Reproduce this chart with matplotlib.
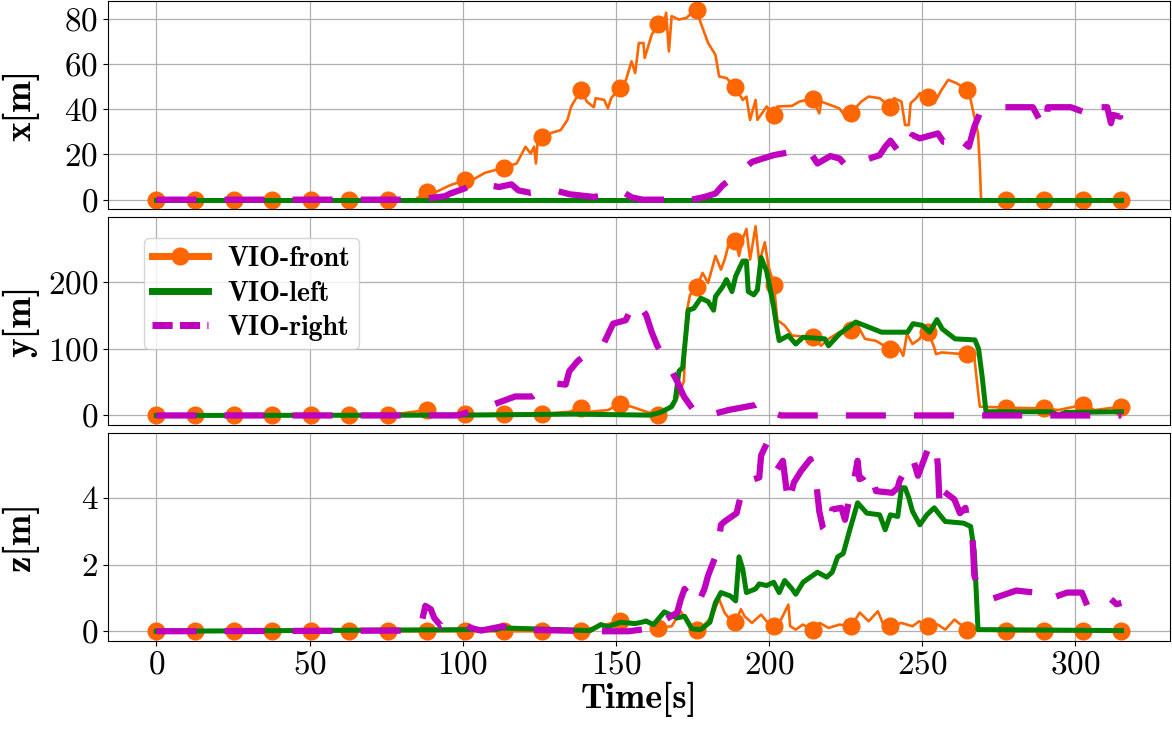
import numpy as np
import matplotlib
matplotlib.use("Agg")
import matplotlib.pyplot as plt

plt.rcParams['font.family'] = ['cmr10', 'DejaVu Serif']
plt.rcParams['axes.formatter.use_mathtext'] = True
plt.rcParams['mathtext.fontset'] = 'cm'

# ---------------- data ----------------
marker_period = 12.6
labels = ["VIO-front", "VIO-left", "VIO-right"]
ylabels = ["x[m]", "y[m]", "z[m]"]
xlabel = "Time[s]"
xticks = [0, 50, 100, 150, 200, 250, 300]
yticks = [[0, 20, 40, 60, 80], [0, 100, 200], [0, 2, 4]]

# x[m]
x_front_t = [0, 12.6, 25.2, 37.8, 50.4, 63.0, 75.6, 84.4, 88.2, 91.3, 95.9, 100.8, 103.9, 107.3, 113.4, 117.6,
             120.5, 122.2, 123.3, 123.9, 124.5, 126.0, 129.1, 132.0, 134.2, 135.4, 138.6, 140.5, 142.8, 143.4,
             146.2, 147.4, 148.5, 151.2, 153.3, 155.1, 156.3, 157.5, 159.0, 159.4, 161.7, 163.8, 165.2, 166.4,
             167.3, 168.2, 170.6, 173.0, 174.2, 176.4, 177.7, 180.1, 182.5, 183.7, 186.1, 189.0, 191.4, 192.6,
             193.8, 195.6, 196.2, 199.2, 201.6, 202.7, 207.5, 209.9, 214.2, 216.4, 217.0, 222.9, 225.4, 226.8,
             230.1, 232.5, 236.1, 239.4, 240.8, 243.2, 244.4, 245.6, 246.2, 248.0, 249.2, 252.0, 253.9, 256.3,
             258.5, 261.1, 264.6, 265.8, 267.0, 268.2, 268.8, 269.2, 277.2, 289.8, 302.4, 315.0]
x_front_v = [0, 0, 0, 0, 0, 0, 0, 0, 3.4, 3.4, 6.4, 8.6, 9.3, 11.9, 14.1, 16.0,
             23.4, 20.4, 23.4, 16.0, 26.4, 27.6, 29.6, 30.8, 35.3, 41.2, 48.6, 43.4, 40.9, 44.9,
             44.1, 40.4, 45.0, 49.3, 53.0, 61.2, 56.0, 69.3, 69.3, 62.7, 73.0, 77.5, 74.5, 82.7,
             65.6, 81.2, 79.7, 80.4, 81.9, 83.7, 78.2, 69.3, 64.1, 54.5, 53.8, 49.8, 44.1, 45.6,
             35.3, 44.1, 35.3, 41.2, 37.5, 41.2, 41.5, 43.4, 44.6, 38.2, 43.4, 40.4, 36.0, 38.5,
             43.4, 45.6, 44.9, 41.2, 44.9, 43.4, 33.0, 33.0, 42.7, 44.9, 47.1, 45.6, 42.7, 48.6,
             53.0, 51.6, 48.6, 44.1, 36.7, 29.3, 14.5, 0, 0, 0, 0, 0]
x_left_t = [0, 315]
x_left_v = [0, 0]
x_right_t = [0, 85, 94.2, 95.9, 100.5, 104.5, 111.9, 115.9, 118.2, 122.2, 130.2, 134.8, 142.8, 152.3, 155.2,
             158.7, 164, 174.8, 178.9, 182.5, 184.9, 191.4, 194.4, 201.5, 207.5, 211.1, 214.0, 215.8, 220,
             223, 225.4, 231.9, 236.1, 237.9, 239.6, 243.2, 245.6, 246.8, 249.2, 255.1, 256.9, 259.9, 260.5,
             265.2, 267, 268.8, 273, 286.1, 289.5, 290.7, 290.9, 298.5, 306.8, 307.4, 310.4, 311.6, 312.2,
             314.6, 315]
x_right_v = [0, 0, 1.5, 2.7, 4.9, 7.4, 5.6, 6.8, 4.1, 3.0, 4.1, 2.4, 1.2, 3.4, 1.0,
             0, 0, 0, 1.2, 2.7, 6.4, 13.0, 16.7, 19.7, 21.2, 21.9, 19.7, 16.0, 19.3,
             18.2, 14.5, 17.8, 19.7, 23.4, 26.1, 19.7, 24.9, 28.6, 27.1, 29.3, 25.6, 25.6, 28.6,
             23.4, 32.3, 38.2, 40.9, 40.9, 32.3, 32.3, 40.9, 40.9, 36.7, 40.9, 40.9, 33.8, 37.5,
             36.7, 40.9]

# y[m]
y_front_t = [0, 12.6, 25.2, 37.8, 50.4, 63.0, 75.6, 79.9, 88.2, 91.3, 100.8, 113.4, 126.0, 134.8, 138.6, 141.6,
             147.4, 151.2, 155.1, 159.9, 163.8, 167.0, 170.0, 172.2, 173.0, 174.2, 176.4, 178.3, 180.1, 182.5,
             184.3, 185.5, 187.3, 189.0, 190.2, 191.4, 192.6, 193.8, 195.6, 196.8, 198.6, 199.8, 201.6, 202.7,
             205.1, 207.5, 214.2, 217.0, 219.4, 223.0, 226.8, 228.3, 231.3, 234.9, 239.4, 242.0, 243.8, 245.0,
             246.8, 249.2, 251.0, 252.0, 253.9, 254.5, 256.3, 263.5, 264.6, 267.0, 268.2, 268.8, 277.2, 289.8,
             294.4, 302.4, 306.3, 315.0]
y_front_v = [0, 0, 0, 0, 0, 0, 0, 3, 8.1, 2, 2, 2, 2, 5.6, 11.7, 5.6,
             8.1, 17, 13.2, 5.6, 0.5, 10.7, 25.9, 51.3, 153, 181, 192.7, 214, 198.8, 239.5,
             219, 234, 265, 262, 239.5, 265, 280, 234, 284, 229, 260, 224, 196, 143,
             135, 120, 117.4, 104.7, 115, 125, 128, 140, 115, 112, 99.6, 104.7, 89.5, 122.5,
             107.3, 115, 132.7, 125, 102, 92, 94.6, 92, 93, 87, 36, 13.2, 11.7, 10.7,
             8.1, 15.8, 8.1, 13.2]
y_left_t = [0, 100.5, 135.9, 161.1, 164.6, 168.2, 169.4, 170.6, 171.8, 173.6, 175.4, 177.7, 180.1, 181.9,
            182.5, 184.9, 186.1, 187.9, 189.1, 191.4, 192.6, 193.2, 195.0, 196.2, 197.4, 199.2, 201.5, 202.7,
            203.3, 206.3, 208.7, 211.1, 218.2, 219.4, 223.0, 228.3, 236.7, 245.2, 247.0, 250.0, 252.4, 254.8,
            256.5, 260.7, 267.2, 268.4, 269.6, 270.8, 292.0, 294.4, 296.8, 315.0]
y_left_v = [0, 0.5, 2, 0.5, 4.6, 13.2, 23.4, 66.6, 71.7, 158, 160.7, 176, 171, 158,
            178.4, 193.7, 204, 186, 209, 231.8, 231.8, 186, 181, 188.6, 237, 216.6, 163, 127.6,
            112.4, 120, 107.3, 117.4, 115, 104.7, 122.5, 140.3, 125, 125, 137.8, 135.2, 125, 143.9,
            130, 115, 113.4, 99.6, 56.4, 5.6, 5.6, 0.5, 4.6, 5.6]
y_right_t = [0, 98, 100.5, 109.6, 117.1, 122.8, 128.5, 133.6, 134.8, 137.6, 143.4, 146.2, 149.1, 153.2,
             156.1, 158.1, 159.9, 161.7, 163.5, 167.6, 170.0, 172.2, 176.5, 182.5, 186.7, 195.6, 197.4,
             200.4, 203.9, 315]
y_right_v = [0, 0, 3, 15.8, 28.5, 28.5, 48.8, 46.3, 66.6, 81.9, 102.2, 109.8, 137.8, 143,
             170.8, 163, 150.5, 125, 104.7, 71.7, 51.3, 28.5, 0.5, 3, 8.1, 15.8, 20.8,
             5.6, 0, 0]

# z[m]
z_front_t = [0, 12.6, 25.2, 37.8, 50.4, 63.0, 75.6, 88.2, 100.8, 113.4, 126.0, 138.6, 144.4, 151.2, 156.3,
             159.9, 163.8, 168.2, 171.2, 173.0, 176.4, 179.0, 181.3, 183.7, 185.5, 187.3, 189.0, 190.8, 192.0,
             194.4, 197.4, 199.2, 201.6, 203.9, 206.3, 206.9, 208.7, 211.0, 214.2, 216.5, 219.4, 223.0, 226.8,
             229.6, 232.5, 235.5, 237.3, 239.4, 243.2, 246.8, 249.0, 252.0, 255.1, 257.5, 260.5, 264.6, 277.2,
             289.8, 302.4, 315.0]
z_front_v = [0, 0, 0, 0, 0, 0, 0, 0, 0, 0, 0, 0.02, 0.15, 0.3, 0.2,
             0.35, 0.1, 0.15, 0.6, 0.3, 0.05, 0.2, 0.45, 0.96, 0.55, 0.35, 0.27, 0.66, 0.45,
             0.25, 0.5, 0.3, 0.15, 0.35, 0.8, 0.15, 0.05, 0.2, 0.05, 0.25, 0.1, 0.2, 0.15,
             0.56, 0.3, 0.6, 0.2, 0.15, 0.25, 0.15, 0.3, 0.15, 0.2, 0.05, 0.35, 0.05, 0,
             0, 0, 0]
z_left_t = [0, 105, 110.8, 113, 141.6, 145.1, 147.4, 151.5, 156.3, 159.9, 162.3, 165.8, 170, 172.4, 174.8,
            177.7, 180.7, 182.5, 184.3, 187.3, 189.1, 190.2, 191.4, 192.6, 195.6, 196.8, 199.2, 201.5, 203.3,
            205.1, 207.5, 208.7, 211.1, 215.8, 218.8, 220.6, 222.4, 224.2, 226.5, 228.9, 231.9, 236.1, 237.9,
            239.6, 242, 243.2, 244.4, 245.6, 246.8, 249.2, 251.5, 253.9, 255.7, 257.5, 263.5, 265.8, 267,
            268.2, 315]
z_left_v = [0, 0.05, 0.05, 0.1, 0.02, 0.2, 0.13, 0.27, 0.23, 0.3, 0.2, 0.58, 0.4, 0.45, 0.07,
            0.05, 0.27, 0.86, 1.16, 1.06, 0.91, 2.23, 1.87, 1.16, 1.27, 1.42, 1.37, 1.47, 1.16,
            1.52, 1.27, 1.11, 1.47, 1.77, 1.62, 1.77, 2.23, 2.33, 3.09, 3.85, 3.54, 3.49, 3.04,
            3.49, 3.44, 4.30, 4.30, 4.0, 3.6, 3.19, 3.49, 3.70, 3.49, 3.29, 3.24, 3.14, 2.38,
            0.05, 0.02]
z_right_t = [0, 84, 86.7, 87.8, 89.6, 90.7, 93, 95.9, 98.7, 102.7, 106, 113, 116.5, 145, 154.2, 162.3, 163.5,
             170, 171.2, 172.4, 176.5, 178.9, 180.1, 183.1, 184.3, 185.5, 189.4, 190.2, 192, 196.8, 197.4,
             199.2, 201, 202.7, 204.5, 206.3, 208.1, 210.5, 213.5, 215.2, 216.4, 217.6, 218.8, 220.6, 223.6,
             224.8, 226.5, 227.7, 228.9, 229.5, 230.7, 233, 234.9, 240.2, 242, 242.6, 246.8, 248.6, 252.7,
             254.5, 255.1, 255.7, 256.9, 260.5, 262.3, 264.1, 264.6, 266.4, 267, 268.2, 270.6, 272.4, 280.7,
             286.7, 289.6, 297.3, 302.1, 303.9, 308.6, 310.4, 313.4, 315]
z_right_v = [0, 0.02, 0.3, 0.76, 0.66, 0.4, 0.15, 0.27, 0.3, 0.1, 0.02, 0.15, 0.05, 0, 0, 0.1, 0.2,
             0.56, 0.96, 1.27, 0.76, 1.27, 1.67, 2.38, 3.19, 3.29, 3.54, 3.85, 4.46, 4.61, 5.27,
             5.62, 5.32, 4.86, 5.11, 3.80, 4.46, 4.81, 5.16, 4.61, 3.59, 3.09, 2.94, 3.65, 3.70,
             3.34, 4.10, 4.51, 5.11, 4.56, 4.61, 4.86, 4.20, 4.15, 4.30, 4.51, 5.22, 4.66, 5.67,
             5.52, 4.96, 3.70, 4.20, 3.95, 3.54, 3.70, 3.34, 2.78, 1.67, 1.32, 1.16, 0.96, 1.22,
             1.16, 0.91, 1.16, 1.16, 0.76, 0.96, 1.06, 0.81, 0.85]

panels = [
    (x_front_t, x_front_v, x_left_t, x_left_v, x_right_t, x_right_v),
    (y_front_t, y_front_v, y_left_t, y_left_v, y_right_t, y_right_v),
    (z_front_t, z_front_v, z_left_t, z_left_v, z_right_t, z_right_v),
]

c_front = '#ff6600'
c_left = '#008000'
c_right = '#bf00bf'

fig, axes = plt.subplots(3, 1, sharex=True, figsize=(11.72, 7.30), dpi=100)
fig.subplots_adjust(left=0.0922, right=0.998, top=0.9986, bottom=0.1223, hspace=0.037)

tick_fs = 24
for i, (ax, p) in enumerate(zip(axes, panels)):
    ft, fv, lt, lv, rt, rv = p
    ft_arr = np.asarray(ft, dtype=float)
    mk = [j for j, t in enumerate(ft_arr)
          if abs(t / marker_period - round(t / marker_period)) < 1e-6]
    ax.plot(ft, fv, color=c_front, lw=1.9, marker='o', ms=12, markevery=mk, label=labels[0], zorder=2)
    ax.plot(lt, lv, color=c_left, lw=3.6, label=labels[1], zorder=3)
    lr, = ax.plot(rt, rv, color=c_right, lw=4.5, label=labels[2], zorder=4)
    lr.set_dashes([6.4, 4.5])
    ax.set_yticks(yticks[i])
    ax.grid(True, color='#b0b0b0', lw=0.9)
    ax.set_axisbelow(True)
    ax.tick_params(axis='both', labelsize=tick_fs)
    ax.set_ylabel(ylabels[i], fontsize=27, fontfamily='cmb10', labelpad=6)
    if i < 2:
        ax.tick_params(axis='x', bottom=False)

axes[2].set_xticks(xticks)
axes[2].set_xlabel(xlabel, fontsize=26, fontfamily='cmb10', labelpad=2)

leg = axes[1].legend(loc='upper left', bbox_to_anchor=(0.034, 0.899), borderaxespad=0,
                     prop={'family': 'cmb10', 'size': 20}, handlelength=2.0,
                     handletextpad=0.7, framealpha=0.8, labelspacing=0.3, borderpad=0.3)
for ln in leg.get_lines():
    ln.set_linewidth(5)
leg.get_lines()[2].set_dashes([2.9, 1.05])

fig.align_ylabels(axes)
fig.savefig('out.png', dpi=100)
